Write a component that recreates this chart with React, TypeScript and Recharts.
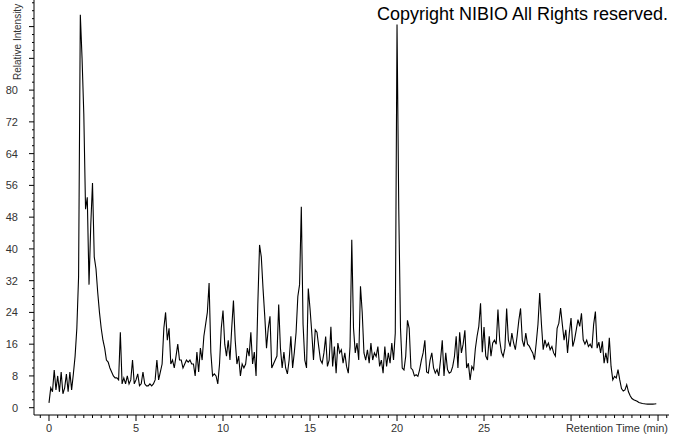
import React from "react";
import { LineChart, Line, XAxis, YAxis, Label } from "recharts";

const SAMPLE_STEP = 0.1;

// 0.0 - 4.9 min : solvent front
const injectionZone = [
  1.2, 5, 4, 9.5, 4.5, 8, 4, 9, 3.5, 5,
  8.5, 4, 9, 4.5, 8.5, 13, 20, 33, 99, 88,
  74, 50, 53, 31, 46, 56.6, 38, 35, 29, 24,
  20, 17, 15, 12, 11.5, 10, 9, 8, 7.5, 7.5,
  7, 19, 6, 7.5, 6, 8, 6, 7, 12, 6,
];

// 5.0 - 14.9 min
const earlyZone = [
  7, 8.5, 5.5, 6, 9, 6, 5.5, 5.5, 6, 5.5,
  6, 7, 12, 7, 9, 11, 20, 24, 17, 20,
  11, 12, 10, 13, 16, 12, 12, 10, 11, 12,
  11.5, 12, 11, 11, 8, 14, 9, 15, 12, 18,
  21, 24, 31.4, 14, 8, 8.5, 8, 6, 11, 20,
  24.5, 16, 13, 17, 12, 20, 27, 17, 11, 13,
  8, 11, 10, 11, 15, 13, 19, 11, 14, 8,
  26, 41, 38, 30, 23, 15, 20, 23, 10, 11,
  12, 13, 26, 15, 10, 14, 10, 8.5, 12, 18,
  10, 14, 19, 28, 31, 50.6, 21, 12, 10, 30,
];

// 15.0 - 24.9 min
const midZone = [
  25, 19, 12, 19.6, 19, 15.4, 12, 11.2, 13.8, 17.9,
  10.4, 12, 20.4, 10.4, 15.4, 8.7, 16.3, 13.8, 14.6, 11.2,
  13.8, 10.4, 8.7, 15.4, 42.3, 20, 13.8, 16.3, 12, 30.6,
  24, 13.8, 12, 14.6, 11.2, 16.3, 12, 13.8, 12.9, 15.4,
  10.4, 12, 8.7, 15.4, 10.4, 13.8, 11.2, 16.3, 12, 18.8,
  96.5, 50, 20, 10, 9.5, 13, 22, 20, 10, 9.5,
  8, 8.3, 7.9, 9.6, 12, 13.8, 17, 9, 8.7, 12,
  13.8, 10, 8.7, 9.6, 8, 12, 17, 8, 13.8, 9.6,
  8.7, 9, 10.4, 12.9, 18, 10, 19, 13.8, 16, 19.5,
  10, 11.2, 7, 10.4, 9.6, 14.8, 18, 20.5, 26.3, 14,
];

// 25.0 - 34.9 min : gradient hump and wash-out
const lateZone = [
  20.3, 13, 12, 18, 13, 16.3, 17, 16, 24.7, 17,
  14, 12.9, 15, 25, 17, 15.4, 18.8, 16.3, 14.6, 18,
  22, 25, 17, 15.4, 18.8, 16, 15.5, 14.6, 13.8, 12.1,
  16.3, 21, 28.9, 21, 14.6, 17.1, 15.4, 16.3, 14.6, 15.4,
  13.8, 13, 20, 21.3, 25.1, 21, 17, 19.6, 13.8, 18.8,
  22.6, 15.4, 17.1, 19.6, 22.2, 20.5, 23.8, 17.1, 16, 17,
  15.4, 16, 15, 21, 24.2, 15, 16.5, 13.8, 16.7, 11.2,
  13.8, 11.2, 17.6, 10.4, 7, 7.9, 7.5, 9.6, 7, 4.8,
  4.2, 4.5, 5.8, 4, 3, 2.3, 2, 1.8, 1.6, 1.3,
  1.2, 1.05, 1, 0.95, 0.9, 0.9, 0.9, 0.9, 0.95, 1,
];

const xLabelTicks = [0, 5, 10, 15, 20, 25];
const yLabelTicks = [0, 8, 16, 24, 32, 40, 48, 56, 64, 72, 80];

const intensity = [...injectionZone, ...earlyZone, ...midZone, ...lateZone];
const chromData = intensity.map((v, i) => ({
  time: Math.round(i * SAMPLE_STEP * 10) / 10,
  value: v,
}));

const xTicks = Array.from({ length: 73 }, (_, i) => -0.5 + i * 0.5);
const yTicks = Array.from({ length: 52 }, (_, i) => i * 2);

const FONT = "'Liberation Sans', Arial, sans-serif";
const AXIS_Y = 415;
const AXIS_X = 34;

function XTick({ x, payload }: any) {
  const v = payload.value;
  const major = v % 5 === 0;
  return (
    <g>
      <line x1={x} x2={x} y1={AXIS_Y} y2={AXIS_Y + (major ? 6 : 3)} stroke="#000" />
      {xLabelTicks.includes(v) && (
        <text x={x} y={432} textAnchor="middle" fontSize={11} fontFamily={FONT} fill="#333">
          {v}
        </text>
      )}
    </g>
  );
}

function YTick({ y, payload }: any) {
  const v = payload.value;
  const major = v % 8 === 0;
  return (
    <g>
      <line x1={AXIS_X - (major ? 5 : 2)} x2={AXIS_X} y1={y} y2={y} stroke="#000" />
      {yLabelTicks.includes(v) && (
        <text x={18} y={y + 4} textAnchor="end" fontSize={11} fontFamily={FONT} fill="#333">
          {v}
        </text>
      )}
    </g>
  );
}

export default function App() {
  return (
    <div style={{ position: "absolute", left: 0, top: 0, width: 674, height: 434, background: "#fff" }}>
      <LineChart width={674} height={434} data={chromData} margin={{ top: 0, right: 5, bottom: 0, left: 0 }}>
        <XAxis
          dataKey="time"
          type="number"
          domain={[-0.862, 35.63]}
          allowDataOverflow
          ticks={xTicks}
          interval={0}
          tick={<XTick />}
          tickLine={false}
          axisLine={{ stroke: "#000" }}
          height={19}
        >
          <Label
            content={() => (
              <text x={668} y={432} textAnchor="end" fontSize={11} fontFamily={FONT} fill="#333">
                Retention Time (min)
              </text>
            )}
          />
        </XAxis>
        <YAxis
          type="number"
          domain={[-1.84, 102.7]}
          allowDataOverflow
          ticks={yTicks}
          interval={0}
          tick={<YTick />}
          tickLine={false}
          axisLine={{ stroke: "#000" }}
          width={34}
        >
          <Label
            content={() => (
              <text
                transform="translate(21,80) rotate(-90)"
                fontSize={10}
                fontFamily={FONT}
                fill="#333"
              >
                Relative Intensity
              </text>
            )}
          />
        </YAxis>
        <Line
          type="linear"
          dataKey="value"
          stroke="#000"
          strokeWidth={1.1}
          dot={false}
          isAnimationActive={false}
        />
      </LineChart>
      <div
        style={{
          position: "absolute",
          left: 377,
          top: 5,
          fontFamily: FONT,
          fontSize: 18,
          lineHeight: "18px",
          color: "#000",
          whiteSpace: "nowrap",
        }}
      >
        Copyright NIBIO All Rights reserved.
      </div>
    </div>
  );
}
